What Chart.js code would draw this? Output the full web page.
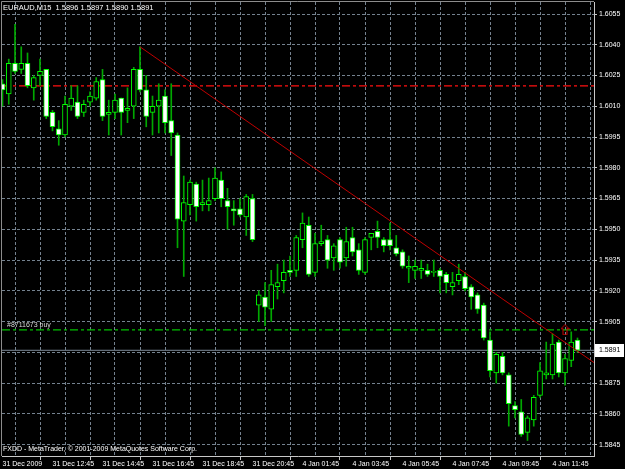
<!DOCTYPE html>
<html>
<head>
<meta charset="utf-8">
<script src="https://cdn.jsdelivr.net/npm/chart.js@4.4.0/dist/chart.umd.min.js"></script>
<style>
  html, body { margin: 0; padding: 0; background: #000; }
</style>
</head>
<body>
<canvas id="candleChart" width="625" height="469"></canvas>
<script>
const symbol = 'EURAUD,M15';
// one label every 8 bars (2 hours of M15)
const timeLabels = ['31 Dec 2009', '31 Dec 12:45', '31 Dec 14:45', '31 Dec 16:45', '31 Dec 18:45', '31 Dec 20:45',
  '4 Jan 01:45', '4 Jan 03:45', '4 Jan 05:45', '4 Jan 07:45', '4 Jan 09:45', '4 Jan 11:45'];

const opens = [
  1.6021, 1.6016, 1.6031, 1.6028, 1.6031, 1.6019, 1.6025, 1.6028, 1.6007, 1.5999,
  1.5996, 1.6010, 1.6012, 1.6007, 1.6012, 1.6014, 1.6023, 1.6006, 1.6007, 1.6014,
  1.6008, 1.6010, 1.6028, 1.6018, 1.6007, 1.6010, 1.6015, 1.6003, 1.5996, 1.5954,
  1.5962, 1.5972, 1.5962, 1.5962, 1.5965, 1.5974, 1.5964, 1.5960, 1.5960, 1.5956,
  1.5965, 1.5913, 1.5917, 1.5911, 1.5922, 1.5925, 1.5930, 1.5930, 1.5945, 1.5952,
  1.5929, 1.5943, 1.5945, 1.5936, 1.5945, 1.5936, 1.5946, 1.5940, 1.5929, 1.5946,
  1.5949, 1.5945, 1.5945, 1.5941, 1.5939, 1.5931, 1.5930, 1.5930, 1.5930, 1.5929,
  1.5930, 1.5928, 1.5922, 1.5925, 1.5927, 1.5922, 1.5918, 1.5913, 1.5896, 1.5880,
  1.5888, 1.5879, 1.5864, 1.5861, 1.5851, 1.5857, 1.5869, 1.5879, 1.5879, 1.5895,
  1.5880, 1.5886, 1.5896
];
const highs = [
  1.6023, 1.6033, 1.6050, 1.6039, 1.6036, 1.6025, 1.6033, 1.6028, 1.6008, 1.6003,
  1.6015, 1.6020, 1.6020, 1.6013, 1.6017, 1.6024, 1.6028, 1.6013, 1.6016, 1.6014,
  1.6019, 1.6029, 1.6039, 1.6025, 1.6015, 1.6021, 1.6018, 1.6021, 1.5997, 1.5976,
  1.5974, 1.5973, 1.5974, 1.5975, 1.5980, 1.5978, 1.5970, 1.5964, 1.5965, 1.5967,
  1.5967, 1.5920, 1.5924, 1.5930, 1.5933, 1.5935, 1.5937, 1.5947, 1.5958, 1.5956,
  1.5948, 1.5952, 1.5947, 1.5943, 1.5946, 1.5951, 1.5951, 1.5943, 1.5946, 1.5948,
  1.5954, 1.5946, 1.5953, 1.5947, 1.5940, 1.5937, 1.5935, 1.5935, 1.5933, 1.5935,
  1.5931, 1.5929, 1.5929, 1.5933, 1.5929, 1.5923, 1.5919, 1.5914, 1.5900, 1.5890,
  1.5890, 1.5880, 1.5866, 1.5867, 1.5859, 1.5869, 1.5885, 1.5895, 1.5899, 1.5896,
  1.5889, 1.5900, 1.5897
];
const lows = [
  1.6010, 1.6011, 1.6026, 1.6026, 1.6019, 1.6013, 1.6020, 1.6004, 1.5998, 1.5991,
  1.5995, 1.6008, 1.6004, 1.6005, 1.6010, 1.6013, 1.6003, 1.5996, 1.6004, 1.5996,
  1.6002, 1.6004, 1.6017, 1.6000, 1.5996, 1.5997, 1.5997, 1.5986, 1.5941, 1.5927,
  1.5957, 1.5954, 1.5959, 1.5959, 1.5964, 1.5961, 1.5950, 1.5952, 1.5956, 1.5947,
  1.5944, 1.5905, 1.5903, 1.5905, 1.5916, 1.5919, 1.5927, 1.5927, 1.5941, 1.5927,
  1.5927, 1.5942, 1.5931, 1.5930, 1.5931, 1.5932, 1.5937, 1.5928, 1.5928, 1.5940,
  1.5941, 1.5939, 1.5940, 1.5937, 1.5931, 1.5924, 1.5926, 1.5926, 1.5927, 1.5927,
  1.5919, 1.5919, 1.5918, 1.5923, 1.5920, 1.5911, 1.5909, 1.5896, 1.5878, 1.5875,
  1.5879, 1.5854, 1.5858, 1.5849, 1.5847, 1.5854, 1.5868, 1.5877, 1.5877, 1.5878,
  1.5874, 1.5883, 1.5890
];
const closes = [
  1.6018, 1.6031, 1.6027, 1.6031, 1.6020, 1.6024, 1.6027, 1.6005, 1.6000, 1.5996,
  1.6011, 1.6014, 1.6005, 1.6011, 1.6015, 1.6022, 1.6005, 1.6007, 1.6013, 1.6007,
  1.6009, 1.6028, 1.6018, 1.6005, 1.6010, 1.6013, 1.6002, 1.5997, 1.5955, 1.5963,
  1.5973, 1.5961, 1.5963, 1.5964, 1.5975, 1.5965, 1.5961, 1.5959, 1.5957, 1.5966,
  1.5945, 1.5918, 1.5912, 1.5923, 1.5924, 1.5929, 1.5929, 1.5946, 1.5953, 1.5928,
  1.5943, 1.5944, 1.5935, 1.5942, 1.5934, 1.5944, 1.5939, 1.5930, 1.5945, 1.5948,
  1.5946, 1.5942, 1.5942, 1.5938, 1.5932, 1.5932, 1.5932, 1.5931, 1.5928, 1.5929,
  1.5927, 1.5924, 1.5924, 1.5928, 1.5921, 1.5917, 1.5911, 1.5897, 1.5881, 1.5889,
  1.5880, 1.5865, 1.5862, 1.5850, 1.5858, 1.5868, 1.5881, 1.5880, 1.5894, 1.5880,
  1.5887, 1.5895, 1.5891
];

const yTicks = [1.6055, 1.6040, 1.6025, 1.6010, 1.5995, 1.5980, 1.5965, 1.5950, 1.5935, 1.5920, 1.5905, 1.5890, 1.5875, 1.5860, 1.5845];
const trendBars = [22, 94.64];
const trendPrices = [1.6039, 1.5885];
const stopLevel = 1.6020;
const orderLevel = 1.5901;
const orderBar = 90;
const orderText = '#8711673 buy';

const xMin = -0.08, xMax = 94.64;
const yMin = 1.583944, yMax = 1.606086;
const last = closes.length - 1;
const fontFamily = "'Liberation Sans', Arial, sans-serif";

const bars = opens.map((o, i) => i);
const gridBars = bars.filter(i => i % 4 === 0);

// hollow red arrow for the buy order
const arrow = document.createElement('canvas');
arrow.width = 9;
arrow.height = 11;
const a = arrow.getContext('2d');
a.strokeStyle = '#D00000';
a.lineWidth = 1;
a.beginPath();
a.moveTo(4.5, 0.5); a.lineTo(8.5, 4.5); a.lineTo(6.5, 4.5); a.lineTo(6.5, 10.5);
a.lineTo(2.5, 10.5); a.lineTo(2.5, 4.5); a.lineTo(0.5, 4.5); a.closePath();
a.stroke();

const overlay = {
  id: 'overlay',
  beforeDraw(chart) {
    const c = chart.ctx;
    c.save();
    c.fillStyle = '#000';
    c.fillRect(0, 0, chart.width, chart.height);
    c.restore();
  },
  afterDraw(chart) {
    const c = chart.ctx;
    const area = chart.chartArea;
    const y = chart.scales.y;
    c.save();
    // frame left / top
    c.strokeStyle = '#8C8C8C';
    c.lineWidth = 1;
    c.beginPath();
    c.moveTo(area.left - 0.5, area.bottom);
    c.lineTo(area.left - 0.5, area.top - 0.5);
    c.lineTo(area.right, area.top - 0.5);
    c.stroke();

    c.font = '7.5px ' + fontFamily;
    c.textBaseline = 'middle';
    c.fillStyle = '#FFFFFF';
    const hdr = symbol + '  ' + [opens[last], highs[last], lows[last], closes[last]].map(v => v.toFixed(4)).join(' ');
    c.fillText(hdr, 3, 8);
    c.font = '7px ' + fontFamily;
    c.fillText('FXDD - MetaTrader, \u00A9 2001-2009 MetaQuotes Software Corp.', 3, 449);

    c.fillStyle = '#D8D8D8';
    c.textBaseline = 'bottom';
    c.fillText(orderText, 7, y.getPixelForValue(orderLevel) - 1);

    // last price box
    const py = Math.round(y.getPixelForValue(closes[last]));
    c.fillStyle = '#FFFFFF';
    c.fillRect(area.right + 1, py - 6, 29, 13);
    c.fillStyle = '#000000';
    c.textBaseline = 'middle';
    c.fillText(closes[last].toFixed(4), area.right + 5, py + 0.5);
    c.restore();
  }
};

new Chart(document.getElementById('candleChart'), {
  type: 'bar',
  data: {
    datasets: [
      {
        label: 'body',
        data: bars.map(i => ({ x: i, y: [opens[i], closes[i]] })),
        backgroundColor: ctx => closes[ctx.dataIndex] >= opens[ctx.dataIndex] ? '#000000' : '#FFFFFF',
        borderColor: '#00FF00',
        borderWidth: 1,
        borderSkipped: false,
        barThickness: 5,
        minBarLength: 1,
        grouped: false,
        order: 1
      },
      {
        label: 'wick',
        data: bars.map(i => ({ x: i, y: [lows[i], highs[i]] })),
        backgroundColor: '#00A800',
        borderWidth: 0,
        barThickness: 1,
        grouped: false,
        order: 2
      },
      {
        type: 'line',
        label: 'trend',
        data: trendBars.map((b, i) => ({ x: b, y: trendPrices[i] })),
        borderColor: '#C00000',
        borderWidth: 1,
        pointRadius: 0,
        order: 0
      },
      {
        type: 'line',
        label: 'stop',
        data: [{ x: xMin, y: stopLevel }, { x: xMax, y: stopLevel }],
        borderColor: '#FF1010',
        borderWidth: 1.2,
        borderDash: [8, 3, 3, 3],
        pointRadius: 0,
        order: 3
      },
      {
        type: 'line',
        label: 'order',
        data: [{ x: xMin, y: orderLevel }, { x: xMax, y: orderLevel }],
        borderColor: '#00C000',
        borderWidth: 1.2,
        borderDash: [8, 3, 3, 3],
        pointRadius: 0,
        order: 3
      },
      {
        type: 'line',
        label: 'bid',
        data: [{ x: xMin, y: closes[last] }, { x: xMax, y: closes[last] }],
        borderColor: '#7F8C99',
        borderWidth: 1,
        pointRadius: 0,
        order: 3
      },
      {
        type: 'scatter',
        label: 'arrow',
        data: [{ x: orderBar, y: orderLevel }],
        pointStyle: arrow,
        pointRadius: 5,
        order: 0
      }
    ]
  },
  options: {
    responsive: false,
    animation: false,
    devicePixelRatio: 1,
    layout: { autoPadding: false, padding: { left: 2, top: 2, right: 0, bottom: 0 } },
    plugins: { legend: { display: false }, tooltip: { enabled: false } },
    scales: {
      x: {
        type: 'linear',
        position: 'bottom',
        min: xMin,
        max: xMax,
        offset: false,
        afterBuildTicks: s => { s.ticks = gridBars.map(v => ({ value: v })); },
        afterFit: s => { s.height = 13; s.paddingLeft = 0; s.paddingRight = 0; },
        ticks: {
          autoSkip: false,
          maxRotation: 0,
          align: 'start',
          padding: 0,
          color: '#FFFFFF',
          font: { family: fontFamily, size: 7 },
          callback: v => (v % 8 === 0 ? timeLabels[v / 8] : '')
        },
        grid: {
          color: '#74828F',
          lineWidth: 1,
          tickLength: 4,
          tickColor: ctx => (ctx.tick && ctx.tick.value % 8 === 0 ? '#C8C8C8' : 'rgba(0,0,0,0)')
        },
        border: { display: true, color: '#C8C8C8', width: 1, dash: [3, 2] }
      },
      y: {
        type: 'linear',
        position: 'right',
        min: yMin,
        max: yMax,
        afterBuildTicks: s => { s.ticks = yTicks.map(v => ({ value: v })); },
        afterFit: s => { s.width = 31; s.paddingTop = 0; s.paddingBottom = 0; },
        ticks: {
          padding: 2,
          color: '#FFFFFF',
          font: { family: fontFamily, size: 7 },
          callback: v => v.toFixed(4)
        },
        grid: { color: '#74828F', lineWidth: 1, tickLength: 3, tickColor: '#C8C8C8' },
        border: { display: true, color: '#C8C8C8', width: 1, dash: [3, 2] }
      }
    }
  },
  plugins: [overlay]
});
</script>
</body>
</html>
